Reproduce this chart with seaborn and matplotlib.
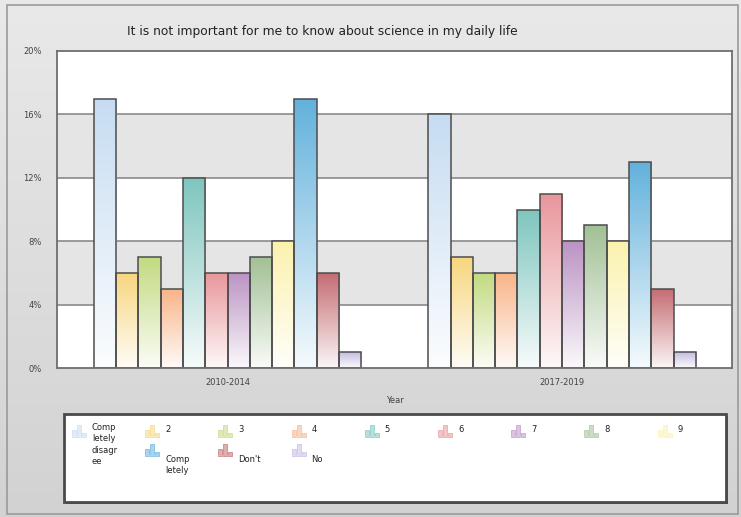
import numpy as np
import pandas as pd
import matplotlib
matplotlib.use("Agg")
import matplotlib.pyplot as plt
import seaborn as sns
from matplotlib.colors import to_rgb, LinearSegmentedColormap
from matplotlib.patches import Rectangle
from matplotlib.ticker import FuncFormatter

# ---- data -------------------------------------------------------------
years = ["2010-2014", "2017-2019"]
responses = ["Completely disagree", "2", "3", "4", "5", "6", "7", "8", "9",
             "Completely agree", "Don't know", "No answer"]
legend_labels = ["Comp\nletely\ndisagr\nee", "2", "3", "4", "5", "6", "7", "8", "9",
                 "Comp\nletely", "Don't", "No"]
share_2010_2014 = [17, 6, 7, 5, 12, 6, 6, 7, 8, 17, 6, 1]
share_2017_2019 = [16, 7, 6, 6, 10, 11, 8, 9, 8, 13, 5, 1]
colors = ["#c6dcf2", "#f7d67e", "#c2da80", "#f8b488", "#7ec5be", "#e8969b",
          "#bb93c3", "#a2c095", "#fbf2ae", "#62b1dc", "#c46b71", "#c7bce0"]
title = "It is not important for me to know about science in my daily life"

df = pd.DataFrame({
    "Year": np.repeat(years, len(responses)),
    "Response": responses * len(years),
    "Share": share_2010_2014 + share_2017_2019,
})

# ---- figure -----------------------------------------------------------
W, H = 741, 517
fig = plt.figure(figsize=(W / 100, H / 100), dpi=100)


def px(x0, y0, x1, y1):
    return [x0 / W, 1 - y1 / H, (x1 - x0) / W, (y1 - y0) / H]


# soft grey backdrop with a thin frame
bg = fig.add_axes([0, 0, 1, 1])
bg_cmap = LinearSegmentedColormap.from_list("bg", ["#d2d2d2", "#e9e9e9"])
bg.imshow(np.linspace(0, 1, 256)[:, None], extent=[0, 1, 0, 1], origin="lower",
          aspect="auto", cmap=bg_cmap)
bg.add_patch(Rectangle((7 / W, 1 - 514 / H), 731 / W, 509 / H, fill=False,
                       edgecolor="#9a9a9a", lw=1.2))
bg.set_xlim(0, 1)
bg.set_ylim(0, 1)
bg.axis("off")

fig.text(322 / W, 1 - 32 / H, title, ha="center", va="center",
         fontsize=8.8, color="#222222")

# ---- bar chart --------------------------------------------------------
ax = fig.add_axes(px(57, 51, 732, 368))
ax.set_facecolor("white")
# alternating white / grey bands between grid lines
band_colors = ["#ffffff", "#e5e5e5", "#ffffff", "#e5e5e5", "#ffffff"]
for k, fc in enumerate(band_colors):
    ax.add_patch(Rectangle((0, 4 * k), 1, 4, transform=ax.get_yaxis_transform(),
                           facecolor=fc, lw=0, zorder=0))
for y in [4, 8, 12, 16]:
    ax.axhline(y, color="#8a8a8a", lw=1.2, zorder=1)

sns.barplot(data=df, x="Year", y="Share", hue="Response", order=years,
            hue_order=responses, palette=colors, saturation=1, width=0.8,
            edgecolor="#4d4d4d", linewidth=1.1, legend=False, ax=ax, zorder=3)

# vertical white-to-colour fill inside every bar
grad = np.linspace(0, 1, 256)[:, None]
for color, container in zip(colors, ax.containers):
    rgb = np.array(to_rgb(color))
    bottom = 0.06 * rgb + 0.94 * np.ones(3)
    cmap = LinearSegmentedColormap.from_list("bar", [bottom, rgb])
    for bar in container:
        x0, y0 = bar.get_xy()
        w, h = bar.get_width(), bar.get_height()
        im = ax.imshow(grad, extent=[x0, x0 + w, y0, y0 + h], origin="lower",
                       aspect="auto", cmap=cmap, interpolation="bilinear",
                       zorder=2.5)
        im.set_clip_path(bar)
        bar.set_facecolor("none")

ax.set_xlim(-0.51, 1.508)
ax.set_ylim(0, 20)
ax.set_yticks([0, 4, 8, 12, 16, 20])
ax.yaxis.set_major_formatter(FuncFormatter(lambda v, _: f"{v:.0f}%"))
ax.tick_params(axis="y", length=0, pad=11, labelsize=6, labelcolor="#444444")
ax.tick_params(axis="x", length=0, pad=7, labelsize=6, labelcolor="#444444")
ax.set_xlabel("Year", fontsize=6, color="#444444", labelpad=7)
ax.set_ylabel("")
for sp in ax.spines.values():
    sp.set_color("#6e6e6e")
    sp.set_linewidth(1.3)
    sp.set_zorder(4)

# ---- legend box -------------------------------------------------------
lg = fig.add_axes([0, 0, 1, 1])
lg.set_xlim(0, W)
lg.set_ylim(H, 0)
lg.axis("off")
lg.patch.set_alpha(0)
lg.add_patch(Rectangle((66, 416), 662, 88, facecolor="#555555", lw=0))
lg.add_patch(Rectangle((64, 414), 662, 88, facecolor="white",
                       edgecolor="#4a4a4a", lw=2))


def legend_icon(x, y, color):
    rgb = np.array(to_rgb(color))
    fill = 0.55 * rgb + 0.45
    for dx, hgt in [(0, 7), (5, 12), (10, 4)]:
        lg.add_patch(Rectangle((x + dx, y + 12 - hgt), 4, hgt, facecolor=fill,
                               edgecolor=0.8 * rgb + 0.2, lw=0.6))
    lg.add_patch(Rectangle((x, y + 11), 14, 1.2, facecolor=fill, lw=0))


col_x = [72 + 73.2 * i for i in range(9)]
for i in range(9):
    legend_icon(col_x[i], 425, colors[i])
    if i == 0:
        lg.text(col_x[i] + 20, 423, legend_labels[i], ha="left", va="top",
                fontsize=6, color="#222222", linespacing=1.35)
    else:
        lg.text(col_x[i] + 20, 430, legend_labels[i], ha="left", va="center",
                fontsize=6, color="#222222")

for j, i in enumerate([9, 10, 11]):
    x = col_x[j + 1]
    legend_icon(x, 444, colors[i])
    if "\n" in legend_labels[i]:
        lg.text(x + 20, 455, legend_labels[i], ha="left", va="top",
                fontsize=6, color="#222222", linespacing=1.35)
    else:
        lg.text(x + 20, 460, legend_labels[i], ha="left", va="center",
                fontsize=6, color="#222222")

fig.savefig("out.png", dpi=100)
